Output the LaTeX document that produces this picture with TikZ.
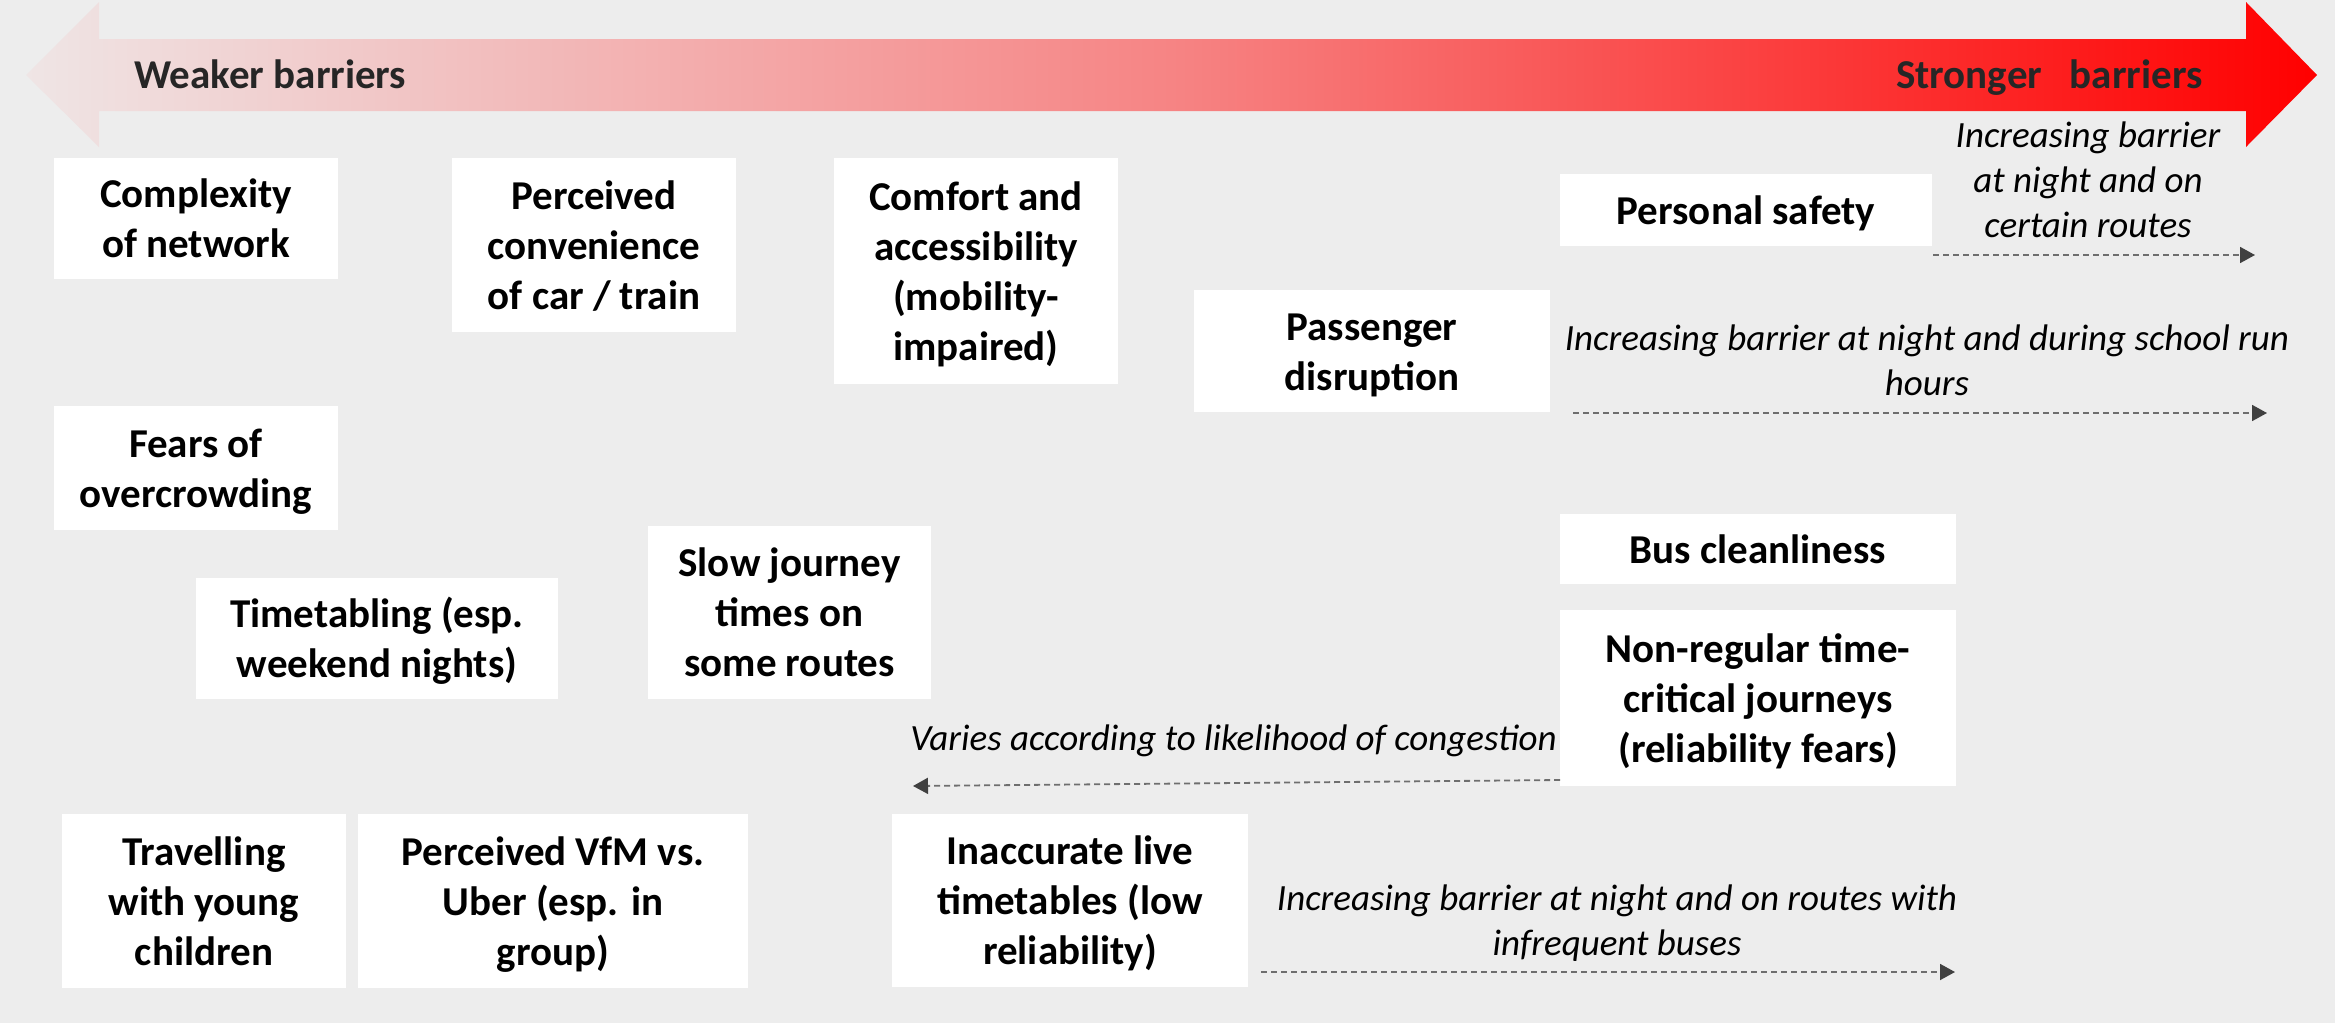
\documentclass[tikz,border=0pt]{standalone}
\usepackage{fontspec}
\setmainfont{Carlito}
\usetikzlibrary{arrows.meta}
\definecolor{bgc}{RGB}{237,237,237}
\definecolor{lblc}{RGB}{38,38,38}
\definecolor{dashc}{RGB}{110,110,110}
\definecolor{tipc}{RGB}{64,64,64}
\definecolor{pinkL}{RGB}{239,229,229}
\definecolor{pinkM}{RGB}{246,132,132}
\definecolor{redR}{RGB}{255,0,0}
\newcommand{\Tstr}{\rule{0pt}{39pt}}
\newcommand{\Bstr}{\rule[-11pt]{0pt}{11pt}}
\tikzset{
  box/.style={fill=white, inner sep=0pt, align=center, text=black,
    font=\bfseries\fontsize{41}{50}\selectfont},
  barlabel/.style={anchor=base west, inner sep=0pt, text=lblc,
    font=\bfseries\fontsize{41}{50}\selectfont},
  note/.style={inner sep=0pt, text=black, font=\itshape\fontsize{37}{45}\selectfont},
  dasharrow/.style={draw=dashc, line width=1.8pt, dash pattern=on 6pt off 4pt,
    -{Triangle[length=15pt,width=16pt,color=tipc]}}
}
\newcommand{\lines}[1]{\begin{tabular}[t]{@{}c@{}}#1\end{tabular}}
\begin{document}
\begin{tikzpicture}[x=1pt,y=-1pt]
\useasboundingbox (0,0) rectangle (2335,1023);
\fill[bgc] (0,0) rectangle (2335,1023);
% big gradient arrow
\path[left color=pinkL, right color=redR, middle color=pinkM]
  (26,75) -- (99,2) -- (99,39) -- (2246,39) -- (2246,2) -- (2317,75)
  -- (2246,147) -- (2246,111) -- (99,111) -- (99,147) -- cycle;
\node[barlabel] (weak) at (134,88) {Weaker barriers};
\node[barlabel] (strong) at (1896,88) {Stronger\ \ \ barriers};
% boxes
\node[box, minimum width=284pt, minimum height=121pt] (cn) at (196,218.5) {\Tstr Complexity\\of network\Bstr};
\node[box, minimum width=284pt, minimum height=174pt] (pc) at (594,245) {\Tstr Perceived\\convenience\\of car / train\Bstr};
\node[box, minimum width=284pt, minimum height=226pt] (ca) at (976,271) {\Tstr Comfort and\\accessibility\\(mobility-\\impaired)\Bstr};
\node[box, minimum width=372pt, minimum height=72pt] (ps) at (1746,210) {\Tstr Personal safety\Bstr};
\node[box, minimum width=356pt, minimum height=122pt] (pd) at (1372,351) {\Tstr Passenger\\disruption\Bstr};
\node[box, minimum width=284pt, minimum height=124pt] (fo) at (196,468) {\Tstr Fears of\\overcrowding\Bstr};
\node[box, minimum width=362pt, minimum height=121pt] (tt) at (377,638.5) {\Tstr Timetabling (esp.\\weekend nights)\Bstr};
\node[box, minimum width=283pt, minimum height=173pt] (sj) at (789.5,612.5) {\Tstr Slow journey\\times on\\some routes\Bstr};
\node[box, minimum width=396pt, minimum height=70pt] (bc) at (1758,549) {\Tstr Bus cleanliness\Bstr};
\node[box, minimum width=396pt, minimum height=176pt] (nr) at (1758,698) {\Tstr Non-regular time-\\critical journeys\\(reliability fears)\Bstr};
\node[box, minimum width=284pt, minimum height=174pt] (yc) at (204,901) {\Tstr Travelling\\with young\\children\Bstr};
\node[box, minimum width=390pt, minimum height=174pt] (vf) at (553,901) {\Tstr Perceived VfM vs.\\Uber (esp. in\\group)\Bstr};
\node[box, minimum width=356pt, minimum height=173pt] (il) at (1070,900.5) {\Tstr Inaccurate live\\timetables (low\\reliability)\Bstr};
% annotations
\node[note, anchor=base] (n1) at (2088,147) {\lines{Increasing barrier\\at night and on\\certain routes}};
\node[note, anchor=base] (n2) at (1927,350) {\lines{Increasing barrier at night and during school run\\hours}};
\node[note, anchor=base east] (n3) at (1557,750) {Varies according to likelihood of congestion};
\node[note, anchor=base] (n4) at (1617,910) {\lines{Increasing barrier at night and on routes with\\infrequent buses}};
% dashed arrows
\coordinate (a1s) at (1933,255); \coordinate (a1e) at (2255,255);
\coordinate (a2s) at (1573,413); \coordinate (a2e) at (2267,413);
\coordinate (a3s) at (1560,780); \coordinate (a3e) at (913,786);
\coordinate (a4s) at (1261,972); \coordinate (a4e) at (1955,972);
\draw[dasharrow] (a1s) -- (a1e);
\draw[dasharrow] (a2s) -- (a2e);
\draw[dasharrow] (a3s) -- (a3e);
\draw[dasharrow] (a4s) -- (a4e);
\end{tikzpicture}
\end{document}
